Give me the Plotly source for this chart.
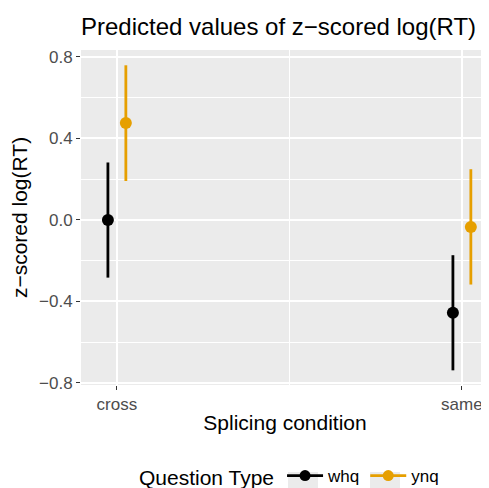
import plotly.graph_objects as go

conditions = ["cross", "same"]
groups = ["whq", "ynq"]
colors = {"whq": "#000000", "ynq": "#E69F00"}
predicted = {"whq": [0.00, -0.455], "ynq": [0.476, -0.035]}
ci_low = {"whq": [-0.283, -0.738], "ynq": [0.191, -0.317]}
ci_high = {"whq": [0.282, -0.173], "ynq": [0.759, 0.249]}
dodge = {"whq": -0.026, "ynq": 0.026}

# the page body has an 8px margin, so the figure is drawn 8px in from the window corner
OFF = 8
W, H = 489 - OFF, 488 - OFF
L, R, T, B = 81 - OFF, 0, 50 - OFF, 103
ph = H - T - B
pw = W - L - R

fig = go.Figure()
for g in groups:
    xs = [i + 1 + dodge[g] for i in range(len(conditions))]
    ys = predicted[g]
    fig.add_trace(go.Scatter(
        x=xs, y=ys, mode="markers",
        marker=dict(color=colors[g], size=12),
        error_y=dict(type="data", symmetric=False,
                     array=[h - y for h, y in zip(ci_high[g], ys)],
                     arrayminus=[y - l for l, y in zip(ci_low[g], ys)],
                     color=colors[g], thickness=2.8, width=0),
        showlegend=False, hoverinfo="skip"))
    fig.add_trace(go.Scatter(
        x=[None], y=[None], mode="lines+markers", name=g,
        line=dict(color=colors[g], width=2.8),
        marker=dict(color=colors[g], size=11)))


def px_to_paper_x(px):
    return (px - OFF - L) / pw


def px_to_paper_y(py):
    return (T + ph - (py - OFF)) / ph


# grey legend-key backgrounds (screen-pixel left edges of the keys)
for x0 in (288, 370):
    fig.add_shape(type="rect", xref="paper", yref="paper",
                  x0=px_to_paper_x(x0), x1=px_to_paper_x(x0 + 30),
                  y0=px_to_paper_y(492), y1=px_to_paper_y(472),
                  fillcolor="#EBEBEB", line=dict(width=0), layer="below")

grid = "white"
fig.update_layout(
    width=W, height=H,
    margin=dict(l=L, r=R, t=T, b=B, autoexpand=False),
    paper_bgcolor="white", plot_bgcolor="#EBEBEB",
    font=dict(family="Liberation Sans, Arial, sans-serif", color="black"),
    title=dict(text="Predicted values of z\u2212scored log(RT)", x=L / W, xanchor="left",
               y=1 - (27 - OFF) / H, yanchor="middle", font=dict(size=24, color="black")),
    legend=dict(orientation="h", x=px_to_paper_x(137), xanchor="left",
                y=px_to_paper_y(477), yanchor="middle",
                title=dict(text="Question Type", font=dict(size=21)),
                font=dict(size=17), itemwidth=36, bgcolor="rgba(0,0,0,0)"),
)
fig.update_xaxes(
    range=[0.896, 2.0786], tickvals=[1, 2], ticktext=conditions,
    showgrid=True, gridcolor=grid, gridwidth=1.6,
    minor=dict(tickvals=[1.5], showgrid=True, gridcolor=grid, gridwidth=0.8),
    ticks="outside", ticklen=4, tickcolor="#333333", tickwidth=1.2,
    tickfont=dict(size=17, color="#4D4D4D"), automargin=False,
    title=dict(text="Splicing condition", font=dict(size=21), standoff=1),
    zeroline=False, showline=False)
fig.update_yaxes(
    range=[-0.81, 0.834], tickvals=[-0.8, -0.4, 0.0, 0.4, 0.8],
    ticktext=["\u22120.8", "\u22120.4", "0.0", "0.4", "0.8"],
    showgrid=True, gridcolor=grid, gridwidth=1.6,
    minor=dict(tickvals=[-0.6, -0.2, 0.2, 0.6], showgrid=True, gridcolor=grid, gridwidth=0.8),
    ticks="outside", ticklen=4, tickcolor="#333333", tickwidth=1.2,
    tickfont=dict(size=17, color="#4D4D4D"), automargin=False,
    title=dict(text="z\u2212scored log(RT)", font=dict(size=21), standoff=6),
    zeroline=False, showline=False)

fig.write_html("out.html")
